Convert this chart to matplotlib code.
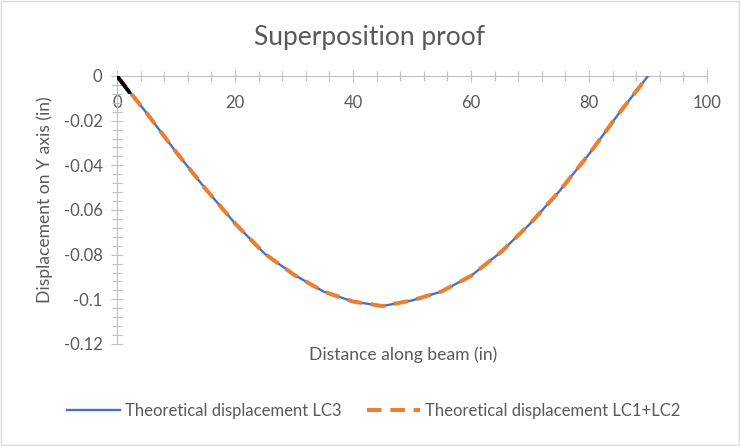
import matplotlib
matplotlib.use("Agg")
import matplotlib.pyplot as plt
from matplotlib.ticker import MultipleLocator, FuncFormatter
from matplotlib.lines import Line2D
from matplotlib.patches import Rectangle

plt.rcParams['font.family'] = ['Lato', 'DejaVu Sans']

# Data
distance = [0, 5, 10, 15, 20, 25, 30, 35, 40, 45, 50, 55, 60, 65, 70, 75, 80, 85, 90]
disp_lc3 = [0, -0.0165, -0.034, -0.0505, -0.066, -0.0795, -0.089, -0.0965, -0.101, -0.103,
            -0.1005, -0.0965, -0.0895, -0.079, -0.0662, -0.0515, -0.035, -0.017, 0]
disp_lc12 = list(disp_lc3)
start_x = [0, 2.1]
start_y = [0, -0.0073]

title = "Superposition proof"
xlabel = "Distance along beam (in)"
ylabel = "Displacement on Y axis (in)"
label_lc3 = "Theoretical displacement LC3"
label_lc12 = "Theoretical displacement LC1+LC2"

blue = "#4472C4"
orange = "#ED7D31"
txt = "#595959"
axc = "#BFBFBF"

fig = plt.figure(figsize=(7.4, 4.46), dpi=100)
fig.patches.append(Rectangle((0.001, 0.002), 0.997, 0.995, transform=fig.transFigure,
                             fill=False, edgecolor="#D9D9D9", linewidth=1.0))
ax = fig.add_axes([117/740, 1-344/446, (707-117)/740, (344-76)/446])

ax.plot(distance, disp_lc3, color=blue, lw=1.7, solid_capstyle='round', zorder=3)
ax.plot(distance, disp_lc12, color=orange, lw=2.9, dashes=(3.6, 2.2),
        dash_capstyle='butt', zorder=4)
ax.plot(start_x, start_y, color="black", lw=2.8, solid_capstyle='round', zorder=5)

ax.set_xlim(0, 100)
ax.set_ylim(-0.12, 0)
ax.spines['right'].set_visible(False)
ax.spines['top'].set_visible(False)
ax.spines['bottom'].set_position(('data', 0))
for s in ('left', 'bottom'):
    ax.spines[s].set_color(axc)
    ax.spines[s].set_linewidth(0.8)

ax.xaxis.set_major_locator(MultipleLocator(20))
ax.xaxis.set_minor_locator(MultipleLocator(4))
ax.yaxis.set_major_locator(MultipleLocator(0.02))
ax.yaxis.set_minor_locator(MultipleLocator(0.004))

def yfmt(v, pos):
    if abs(v) < 1e-12:
        return "0"
    return ("%g" % round(v, 4))
ax.yaxis.set_major_formatter(FuncFormatter(yfmt))
ax.xaxis.set_major_formatter(FuncFormatter(lambda v, p: "%d" % round(v)))

ax.tick_params(which='major', direction='inout', length=9, width=0.8, color=axc,
               labelcolor=txt, labelsize=12)
ax.tick_params(which='minor', direction='inout', length=6.5, width=0.8, color=axc)
ax.tick_params(axis='y', which='major', pad=6)
ax.tick_params(axis='x', which='major', pad=9.5)

fig.text(0.5, 1-37/446, title, ha='center', va='center', fontsize=19, color=txt)
fig.text(403/740, 1-355/446, xlabel, ha='center', va='center', fontsize=12.6, color=txt)
fig.text(45/740, 1-200/446, ylabel, ha='center', va='center', rotation=90,
         fontsize=12.6, color=txt)

handles = [Line2D([], [], color=blue, lw=1.7),
           Line2D([], [], color=orange, lw=2.9, dashes=(3.6, 2.2), dash_capstyle='butt')]
fig.legend(handles, [label_lc3, label_lc12], loc='center',
           bbox_to_anchor=(373.5/740, 1-411/446),
           ncol=2, frameon=False, fontsize=12, labelcolor=txt, handlelength=3.2,
           columnspacing=1.5, handletextpad=0.3)

fig.savefig("out.png", dpi=100)
